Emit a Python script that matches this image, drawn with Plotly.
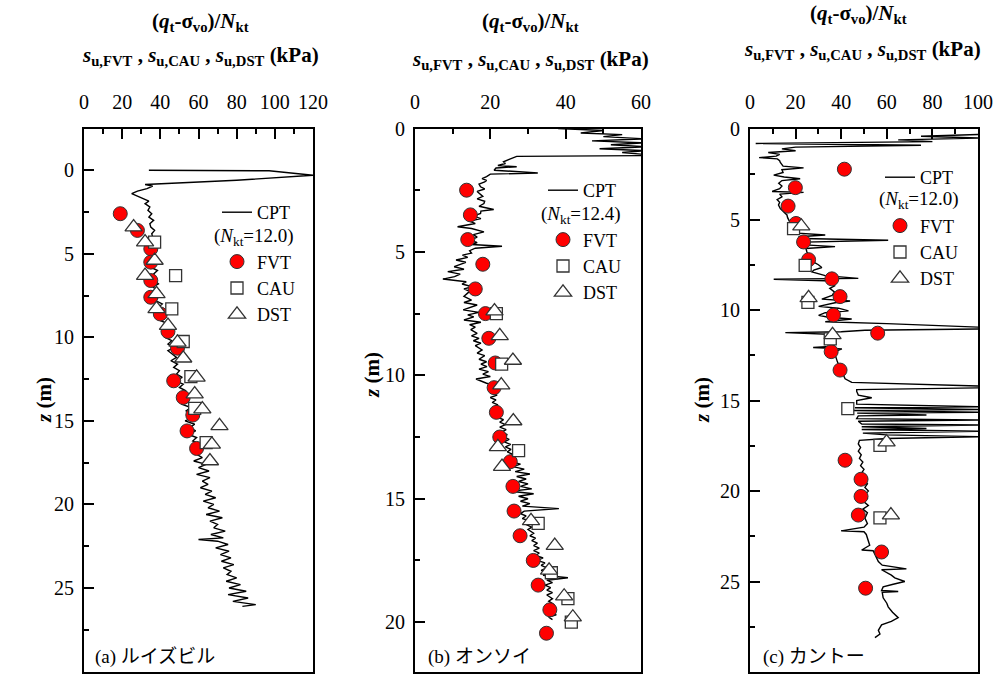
import plotly.graph_objects as go

W, H = 1007, 682

# ---------------- Panel (a) Louiseville ----------------
cpt_a_z = [0.0, 0.03, 0.3, 0.6, 0.85, 0.95, 1.1, 1.25, 1.4, 1.55, 1.7, 1.85, 2.0,
           2.2, 2.4, 2.6, 2.8, 3.0, 3.2, 3.4, 3.6, 3.8, 4.0, 4.2, 4.4, 4.6, 4.8, 5.0,
           5.2, 5.4, 5.6, 5.8, 6.0, 6.2, 6.4, 6.6, 6.8, 7.0, 7.2, 7.4, 7.6, 7.8, 8.0,
           8.2, 8.4, 8.6, 8.8, 9.0, 9.2, 9.4, 9.6, 9.8, 10.0, 10.2, 10.4, 10.6, 10.8,
           11.0, 11.2, 11.4, 11.6, 11.8, 12.0, 12.2, 12.4, 12.6, 12.8, 13.0, 13.2, 13.4,
           13.6, 13.8, 14.0, 14.2, 14.4, 14.6, 14.8, 15.0, 15.2, 15.4, 15.6, 15.8, 16.0,
           16.2, 16.4, 16.6, 16.8, 17.0, 17.2, 17.4, 17.6, 17.8, 18.0, 18.2, 18.4, 18.6,
           18.8, 19.0, 19.2, 19.4, 19.6, 19.8, 20.0, 20.2, 20.4, 20.6, 20.8, 21.0, 21.2,
           21.4, 21.6, 21.8, 22.0, 22.1, 22.2, 22.4, 22.6, 22.8, 23.0, 23.2, 23.4, 23.6,
           23.8, 24.0, 24.2, 24.4, 24.6, 24.8, 25.0, 25.2, 25.4, 25.6, 25.8, 26.0, 26.1]
cpt_a_v = [34, 97, 120, 80, 32, 36, 33, 28, 25, 28, 31, 34, 32,
           34.5, 33.5, 35.5, 34, 36.5, 34.5, 35, 37, 35.5, 36, 34.5, 37.5, 36, 37, 35.5,
           38, 36.5, 37.5, 35, 38.5, 36.5, 37.5, 37, 39, 36, 39.5, 38, 39, 37.5,
           41, 39, 42, 40.5, 43, 40, 44.5, 42, 43.5, 45, 42.5, 46, 44, 47.5, 44,
           46, 48.5, 45.5, 49, 47, 50, 48.5, 51.5, 48, 52, 50, 53.5, 50.5,
           52, 55, 51, 56, 53.5, 55, 57, 53, 58, 55.5, 58.5, 54.5, 59,
           57, 61, 56.5, 61.5, 59, 62, 57.5, 64, 60, 65.5, 59, 66, 62,
           65, 61, 67, 63.5, 69, 62.5, 68, 65, 71, 64, 72.5, 66, 70,
           68, 74, 66.5, 73, 60, 70, 75.5, 69, 76, 71.5, 77, 72, 78.5,
           73, 77, 75, 80, 74.5, 82, 76, 85, 75.5, 86, 78, 90, 83]
fvt_a_z = [2.6, 3.6, 4.7, 5.5, 6.6, 7.6, 8.6, 9.65, 10.65, 12.6, 13.6, 14.65, 15.6, 16.65]
fvt_a_v = [19, 28, 35, 35, 35, 35, 40, 44, 49, 47, 52, 57, 54, 59]
cau_a_z = [4.3, 6.3, 8.3, 10.25, 12.35, 14.25, 16.3]
cau_a_v = [37, 48, 46, 52, 56, 58, 64]
dst_a_z = [3.4, 4.3, 5.4, 6.3, 7.4, 8.3, 9.3, 10.3, 11.25, 12.4, 13.4, 14.3, 15.3, 16.4, 17.4]
dst_a_v = [26, 32, 37, 32, 38, 38, 44, 49, 52, 59, 58, 62, 71, 67, 66]

# ---------------- Panel (b) Onsoy ----------------
cpt_b_z = [0.0, 0.08, 0.18, 0.25, 0.33, 0.42, 0.5, 0.58, 0.66, 0.74, 0.82, 0.9, 0.97, 1.05,
           1.1, 1.13, 1.25, 1.35, 1.42, 1.5, 1.55, 1.6, 1.69, 1.8, 1.85, 1.95, 2.03, 2.1,
           2.16, 2.25, 2.36, 2.45, 2.55, 2.63, 2.75, 2.85, 2.95, 3.04, 3.15, 3.28, 3.35,
           3.44, 3.55, 3.65, 3.75, 3.85, 3.98, 4.05, 4.19, 4.3, 4.4, 4.52, 4.62, 4.7,
           4.77, 4.85, 4.95, 5.05, 5.13, 5.22, 5.33, 5.42, 5.5, 5.6, 5.7, 5.8, 5.9, 6.0,
           6.1, 6.21, 6.3, 6.41, 6.5, 6.6, 6.68, 6.8, 6.95, 7.05, 7.15, 7.22, 7.35, 7.45,
           7.55, 7.63, 7.76, 7.85, 7.95, 8.05, 8.15, 8.3, 8.4, 8.5, 8.6, 8.7, 8.8, 8.97,
           9.1, 9.2, 9.35, 9.45, 9.55, 9.65, 9.75, 9.85, 9.95, 10.05, 10.15, 10.32, 10.4,
           10.5, 10.6, 10.7, 10.8, 10.9, 11.0, 11.1, 11.2, 11.3, 11.4, 11.5, 11.6, 11.7,
           11.8, 11.9, 12.0, 12.1, 12.2, 12.3, 12.4, 12.5, 12.6, 12.7, 12.8, 12.9, 13.0,
           13.1, 13.2, 13.3, 13.4, 13.5, 13.6, 13.7, 13.8, 13.9, 14.0, 14.1, 14.2, 14.3,
           14.4, 14.5, 14.6, 14.7, 14.8, 14.9, 15.0, 15.1, 15.2, 15.3, 15.4, 15.5, 15.6,
           15.7, 15.8, 15.9, 16.05, 16.15, 16.25, 16.4, 16.5, 16.6, 16.7, 16.8, 16.9, 17.0,
           17.1, 17.2, 17.3, 17.4, 17.5, 17.6, 17.7, 17.8, 17.9, 18.0, 18.1, 18.2, 18.3,
           18.4, 18.5, 18.6, 18.7, 18.8, 18.9, 19.05, 19.15, 19.3, 19.4, 19.5, 19.6, 19.7,
           19.8, 19.9]
cpt_b_v = [38, 50, 44, 55, 50, 61, 47, 61, 52, 61, 49, 61, 55, 61,
           61, 27, 25, 23.5, 24, 22, 27, 21.5, 21, 32.6, 20, 19, 17.8, 19,
           18.5, 17, 17.4, 18.5, 16.5, 17, 18, 16.5, 18.5, 18.3, 17, 20.9, 17.5,
           17.4, 15.5, 17.5, 14.5, 16, 11.3, 15, 18.3, 15.5, 16.5, 14.8, 16.5, 15,
           23.1, 16, 14.5, 15, 12.6, 14, 10.9, 13.5, 12, 10.4, 13, 8.7, 12, 10.5,
           7.4, 13.6, 12.5, 15.2, 13, 14.5, 13.9, 13, 15, 13, 16.5, 15.2, 12.8, 17,
           14, 15.6, 13, 17.5, 14.5, 16, 14.8, 16.5, 15, 17, 15.5, 17.5, 16, 17.8,
           16.5, 18.5, 17, 19, 17.5, 19.1, 17, 19.5, 18, 20, 16.2, 19, 21.5,
           19.5, 21, 20, 21.8, 20, 21.5, 20.5, 22, 21, 22.5, 21.5, 23, 22,
           23.5, 22.5, 24, 22.5, 24.2, 23, 24.5, 23.5, 25, 23.7, 25.4, 24, 25.5,
           24.5, 26, 25, 27, 25.5, 28, 26, 29, 26.6, 30.5, 27, 29.5, 27.5,
           30, 28, 31, 25.4, 31.5, 27.5, 30, 28, 30.5, 28.5, 38.2, 29, 28,
           29.5, 28.5, 30.5, 29.5, 31, 30, 31.5, 30.5, 32, 31, 32.5, 31.5, 33,
           31.5, 33, 32, 34, 32.5, 34.5, 33.5, 35, 33.5, 35.5, 34, 40.6, 35,
           36.5, 34.5, 36, 35, 36.5, 35, 36.5, 35.5, 37, 35.5, 37, 36, 37.5,
           35.5, 36.5]
fvt_b_z = [2.5, 3.5, 4.5, 5.5, 6.5, 7.5, 8.5, 9.5, 10.5, 11.5, 12.5, 13.5, 14.5, 15.5,
           16.5, 17.5, 18.5, 19.5, 20.45]
fvt_b_v = [13.7, 14.7, 14, 18, 16, 18.7, 19.6, 21.3, 21, 21.6, 22.5, 25.3, 26, 26.3,
           27.9, 31.4, 32.7, 35.8, 34.9]
cau_b_z = [7.5, 9.55, 13.05, 16.0, 18.0, 19.05, 20.0]
cau_b_v = [21.6, 23, 27.5, 32.7, 36.2, 40.6, 41.5]
dst_b_z = [7.4, 8.4, 9.4, 10.4, 11.85, 12.9, 13.7, 15.9, 16.9, 17.9, 18.95, 19.8]
dst_b_v = [21.1, 22.5, 26, 22.9, 26.1, 22, 23.1, 30.8, 37.1, 35.6, 39.6, 41.9]

# ---------------- Panel (c) Can Tho ----------------
cpt_c_z = [0.3, 0.4, 0.5, 0.6, 0.7, 0.8, 0.9, 1.0, 1.1, 1.2, 1.3, 1.4, 1.5, 1.58, 1.65,
           1.75, 1.85, 1.95, 2.05, 2.15, 2.25, 2.4, 2.55, 2.65, 2.75, 2.85, 3.0, 3.15,
           3.3, 3.45, 3.5, 3.6, 3.75, 3.9, 4.05, 4.2, 4.4, 4.55, 4.75, 4.9, 5.05, 5.2,
           5.35, 5.5, 5.6, 5.75, 5.86, 5.95, 6.05, 6.15, 6.25, 6.4, 6.5, 6.6, 6.8, 7.0,
           7.3, 7.5, 7.65, 7.8, 7.9, 8.1, 8.25, 8.3, 8.4, 8.5, 8.65, 8.8, 9.0, 9.2, 9.4,
           9.5, 9.6, 9.8, 9.9, 10.05, 10.15, 10.3, 10.4, 10.5, 10.65, 10.75, 10.85, 10.95,
           11.05, 11.12, 11.2, 11.25, 11.35, 11.5, 11.7, 11.9, 12.0, 12.07, 12.15, 12.3,
           12.45, 12.7, 12.85, 13.0, 13.2, 13.4, 13.6, 13.8, 14.0, 14.1, 14.2, 14.3, 14.4,
           14.5, 14.7, 14.85, 15.0, 15.2, 15.35, 15.4, 15.5, 15.55, 15.65, 15.7, 15.8,
           15.85, 16.0, 16.08, 16.15, 16.3, 16.35, 16.45, 16.55, 16.6, 16.7, 16.8, 16.9,
           17.0, 17.1, 17.2, 17.4, 17.6, 17.8, 18.0, 18.2, 18.4, 18.6, 18.8, 19.0, 19.2,
           19.4, 19.6, 19.8, 20.0, 20.2, 20.4, 20.6, 20.8, 21.0, 21.2, 21.5, 21.8, 22.0,
           22.2, 22.25, 22.4, 22.6, 22.8, 23.0, 23.26, 23.3, 23.5, 23.7, 23.9, 24.1, 24.3,
           24.35, 24.5, 24.65, 24.8, 25.0, 25.15, 25.3, 25.5, 25.55, 25.6, 25.9, 26.2,
           26.4, 26.7, 27.0, 27.2, 27.4, 27.7, 27.9, 28.1]
cpt_c_v = [101, 75, 101, 65, 80, 2.5, 75, 20, 14, 20, 8, 13, 11.5, 4, 12,
           13, 13.3, 14, 14.5, 23.5, 14, 14.5, 10.4, 15, 22, 14, 12.6, 14,
           13, 9.7, 23.5, 13, 14, 11.9, 13, 12.5, 13.3, 14.5, 16.2, 16.5, 17, 17.7,
           18.5, 20, 20.6, 21, 33, 21.3, 23, 60.6, 24.2, 24.2, 37.3, 24.5, 25, 26,
           27.2, 30, 31.5, 28, 27.2, 33, 47.5, 10.4, 36.6, 35, 37.3, 35, 37, 36, 31.5,
           43.9, 37.3, 30.1, 38.8, 43.2, 33, 30.1, 34.4, 44.6, 33, 60, 79.6, 101,
           101, 50.4, 40, 15.5, 37.3, 35.9, 36, 35.5, 37, 27.7, 40.3, 37.3,
           37.3, 37.8, 38.3, 38.8, 39.5, 40.3, 41, 41.7, 44.6, 77.4, 101, 101, 46.8,
           46.8, 47.5, 53.4, 46.8, 46.8, 101, 46, 101, 45.5, 101, 47, 77.4,
           47.5, 46.8, 101, 47.5, 49, 101, 49, 77.4, 49, 101, 49.5, 59.9,
           101, 59.9, 48, 47.5, 48.5, 47.5, 48.8, 48, 49.5, 48.5, 50, 49, 50.5,
           50, 51.5, 50.4, 51.9, 50.4, 51.5, 50, 51.9, 49.5, 51.5, 50.4, 51.5, 50,
           40, 50, 51, 51.5, 51.9, 52.5, 49, 54, 54.8, 55.5, 56.3, 58, 68.6,
           57.7, 59.9, 62, 63.5, 67.9, 62.8, 58.4, 57.7, 65, 58, 58.4, 60,
           60.6, 62.5, 65, 62, 57.7, 56.3, 57, 54.8]
fvt_c_z = [2.22, 3.24, 4.26, 5.22, 6.24, 7.22, 8.28, 9.26, 10.28, 11.28, 12.3, 13.32,
           18.3, 19.35, 20.3, 21.33, 23.37, 25.37]
fvt_c_v = [41.4, 19.9, 16.7, 20.2, 23.5, 25.7, 35.9, 39.5, 36.6, 56, 35.6, 39.5,
           41.7, 48.7, 48.7, 47.5, 57.7, 50.7]
cau_c_z = [5.5, 7.54, 9.58, 11.6, 15.45, 17.48, 21.48]
cau_c_v = [19.1, 24.2, 25.4, 35.2, 42.9, 57, 57]
dst_c_z = [5.37, 9.33, 11.37, 17.3, 21.33]
dst_c_v = [22.5, 25.7, 36.2, 59.9, 61.8]

panel_labels = ["(a) ルイズビル", "(b) オンソイ", "(c) カントー"]
nkt_labels = ["(<i>N</i><sub>kt</sub>=12.0)", "(<i>N</i><sub>kt</sub>=12.4)", "(<i>N</i><sub>kt</sub>=12.0)"]

SERIF = "Liberation Serif"
JP = "Liberation Serif, Noto Sans CJK JP"

panels = [
    dict(cpt=(cpt_a_v, cpt_a_z), fvt=(fvt_a_v, fvt_a_z), cau=(cau_a_v, cau_a_z), dst=(dst_a_v, dst_a_z),
         xpx=(84, 313), ypx=(128.5, 671.5), xr=[0, 120], yr=[30, -2.5],
         leg=(217, 194), gap=23, nkt=(212, 237), lbl=(93, 657), zlab=(44, 400),
         t1=(200, 22), t2=(200, 56)),
    dict(cpt=(cpt_b_v, cpt_b_z), fvt=(fvt_b_v, fvt_b_z), cau=(cau_b_v, cau_b_z), dst=(dst_b_v, dst_b_z),
         xpx=(415, 641), ypx=(128.5, 671.5), xr=[0, 60], yr=[22, 0],
         leg=(543, 172), gap=23, nkt=(539, 215), lbl=(426, 657), zlab=(372, 375),
         t1=(530, 22), t2=(530, 60)),
    dict(cpt=(cpt_c_v, cpt_c_z), fvt=(fvt_c_v, fvt_c_z), cau=(cau_c_v, cau_c_z), dst=(dst_c_v, dst_c_z),
         xpx=(750, 978), ypx=(129, 672), xr=[0, 100], yr=[30, 0],
         leg=(880, 159), gap=22, nkt=(877, 200), lbl=(761, 657), zlab=(702, 400),
         t1=(858, 14), t2=(862, 50)),
]

fig = go.Figure()
annotations = []
layout = dict(width=W, height=H, margin=dict(l=0, r=0, t=0, b=0),
              paper_bgcolor="white", plot_bgcolor="white", showlegend=True)

for i, p in enumerate(panels):
    n = "" if i == 0 else str(i + 1)
    xa, ya = "x" + n, "y" + n
    lg = "legend" + n
    fig.add_trace(go.Scatter(x=p["cpt"][0], y=p["cpt"][1], mode="lines", name="CPT",
                             line=dict(color="black", width=1.4), xaxis=xa, yaxis=ya,
                             legend=lg, legendgroup="g1" + n))
    fig.add_trace(go.Scatter(x=p["fvt"][0], y=p["fvt"][1], mode="markers", name="FVT",
                             marker=dict(symbol="circle", size=14, color="#ff0000",
                                         line=dict(color="#333333", width=1)),
                             xaxis=xa, yaxis=ya, legend=lg, legendgroup="g2" + n))
    fig.add_trace(go.Scatter(x=p["cau"][0], y=p["cau"][1], mode="markers", name="CAU",
                             marker=dict(symbol="square", size=12, color="white",
                                         line=dict(color="#333333", width=1.3)),
                             xaxis=xa, yaxis=ya, legend=lg, legendgroup="g2" + n))
    fig.add_trace(go.Scatter(x=p["dst"][0], y=p["dst"][1], mode="markers", name="DST",
                             marker=dict(symbol="triangle-up", size=15, color="white",
                                         line=dict(color="#333333", width=1.3)),
                             xaxis=xa, yaxis=ya, legend=lg, legendgroup="g2" + n))

    common = dict(showline=True, linewidth=2, linecolor="black", mirror=True,
                  ticks="inside", ticklen=10, tickwidth=1.5, tickcolor="black",
                  showgrid=False, zeroline=False, automargin=False,
                  tickfont=dict(family=SERIF, size=20, color="black"))
    layout["xaxis" + n] = dict(common, side="top", range=p["xr"], dtick=20, tick0=0,
                               ticklabelstandoff=10,
                               domain=[p["xpx"][0] / W, p["xpx"][1] / W], anchor=ya,
                               minor=dict(ticks="inside", ticklen=5, tickwidth=1.5,
                                          tickcolor="black", dtick=10, showgrid=False))
    layout["yaxis" + n] = dict(common, range=p["yr"], dtick=5, tick0=0,
                               ticklabelstandoff=4,
                               domain=[1 - p["ypx"][1] / H, 1 - p["ypx"][0] / H], anchor=xa,
                               minor=dict(ticks="inside", ticklen=5, tickwidth=1.5,
                                          tickcolor="black", dtick=2.5, showgrid=False))
    layout[lg] = dict(x=p["leg"][0] / W, xanchor="left", y=1 - p["leg"][1] / H, yanchor="top",
                      bgcolor="rgba(0,0,0,0)", borderwidth=0, traceorder="grouped",
                      tracegroupgap=p["gap"], font=dict(family=SERIF, size=18, color="black"))

    annotations.append(dict(text=nkt_labels[i], x=p["nkt"][0] / W, y=1 - p["nkt"][1] / H,
                            xref="paper", yref="paper", xanchor="left", yanchor="middle",
                            showarrow=False, font=dict(family=SERIF, size=19, color="black")))
    annotations.append(dict(text=panel_labels[i], x=p["lbl"][0] / W, y=1 - p["lbl"][1] / H,
                            xref="paper", yref="paper", xanchor="left", yanchor="middle",
                            showarrow=False, font=dict(family=JP, size=19, color="black")))
    annotations.append(dict(text="<b><i>z</i> (m)</b>", x=p["zlab"][0] / W, y=1 - p["zlab"][1] / H,
                            xref="paper", yref="paper", xanchor="center", yanchor="middle",
                            textangle=-90, showarrow=False,
                            font=dict(family=SERIF, size=21, color="black")))
    annotations.append(dict(text="<b>(<i>q</i><sub>t</sub>-σ<sub>vo</sub>)/<i>N</i><sub>kt</sub></b>",
                            x=p["t1"][0] / W, y=1 - p["t1"][1] / H,
                            xref="paper", yref="paper", xanchor="center", yanchor="middle",
                            showarrow=False, font=dict(family=SERIF, size=21, color="black")))
    annotations.append(dict(text="<b><i>s</i><sub>u,FVT</sub> , <i>s</i><sub>u,CAU</sub> , "
                                 "<i>s</i><sub>u,DST</sub> (kPa)</b>",
                            x=p["t2"][0] / W, y=1 - p["t2"][1] / H,
                            xref="paper", yref="paper", xanchor="center", yanchor="middle",
                            showarrow=False, font=dict(family=SERIF, size=21, color="black")))

layout["annotations"] = annotations
fig.update_layout(**layout)

fig.write_html("out.html", config={"displayModeBar": False},
               post_script="document.body.style.margin='0';")
